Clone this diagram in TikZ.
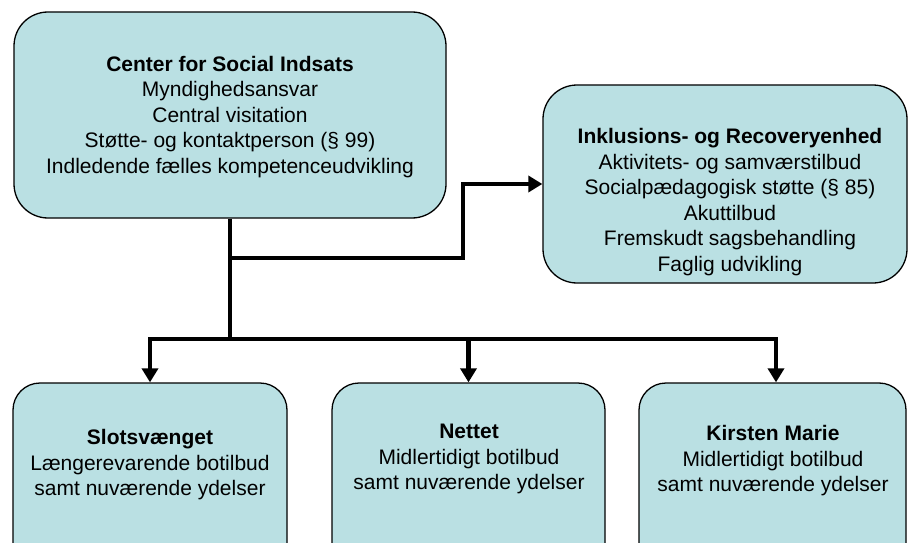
\documentclass[tikz,border=0pt]{standalone}
\usepackage{fontspec}
\setmainfont{Liberation Sans}
\usetikzlibrary{arrows.meta}
\definecolor{boxfill}{HTML}{BAE0E3}
\begin{document}
\begin{tikzpicture}[x=1pt,y=-1pt,
  box/.style={draw=black, line width=1.3pt, fill=boxfill, rounded corners=34pt, inner sep=0pt},
  lowbox/.style={box, rounded corners=27pt},
  txt/.style={align=center, font=\fontsize{21}{25.5}\selectfont, inner sep=0pt},
  conn/.style={line width=4.5pt, line join=miter},
  arr/.style={conn, -{Triangle[length=14pt,width=16pt]}}]
\useasboundingbox (0,0) rectangle (908,543);
\begin{scope}
\clip (0,0) rectangle (908,543);
% boxes
\node[box, minimum width=432pt, minimum height=206pt] (top) at (230,115) {};
\node[box, minimum width=364pt, minimum height=198pt] (right) at (725,184) {};
\node[lowbox, minimum width=274pt, minimum height=200pt] (slot) at (150,483) {};
\node[lowbox, minimum width=273pt, minimum height=200pt] (nettet) at (468.5,483) {};
\node[lowbox, minimum width=267pt, minimum height=200pt] (kirsten) at (772.5,483) {};
% texts
\node[txt] (toptxt) at (230,117) {\textbf{Center for Social Indsats}\\Myndighedsansvar\\Central visitation\\Støtte- og kontaktperson (§ 99)\\Indledende fælles kompetenceudvikling};
\node[txt] (righttxt) at (730,202) {\textbf{Inklusions- og Recoveryenhed}\\Aktivitets- og samværstilbud\\Socialpædagogisk støtte (§ 85)\\Akuttilbud\\Fremskudt sagsbehandling\\Faglig udvikling};
\node[txt] (slottxt) at (150,465) {\textbf{Slotsvænget}\\Længerevarende botilbud\\samt nuværende ydelser};
\node[txt] (nettettxt) at (469,459) {\textbf{Nettet}\\Midlertidigt botilbud\\samt nuværende ydelser};
\node[txt] (kirstentxt) at (773,461) {\textbf{Kirsten Marie}\\Midlertidigt botilbud\\samt nuværende ydelser};
% connectors
\coordinate (j1) at (230,258);
\coordinate (j2) at (230,339);
\coordinate (b1) at (463,258);
\coordinate (kin) at ([xshift=3.5pt]kirsten.north);
\draw[conn] (top.south) -- (j2);
\draw[arr] (j1) -- (b1) |- (right.west);
\draw[arr] (j2) -| (slot.north);
\draw[arr] (j2) -| (kin);
\draw[arr] (nettet.north |- j2) -- (nettet.north);
\end{scope}
\end{tikzpicture}
\end{document}
